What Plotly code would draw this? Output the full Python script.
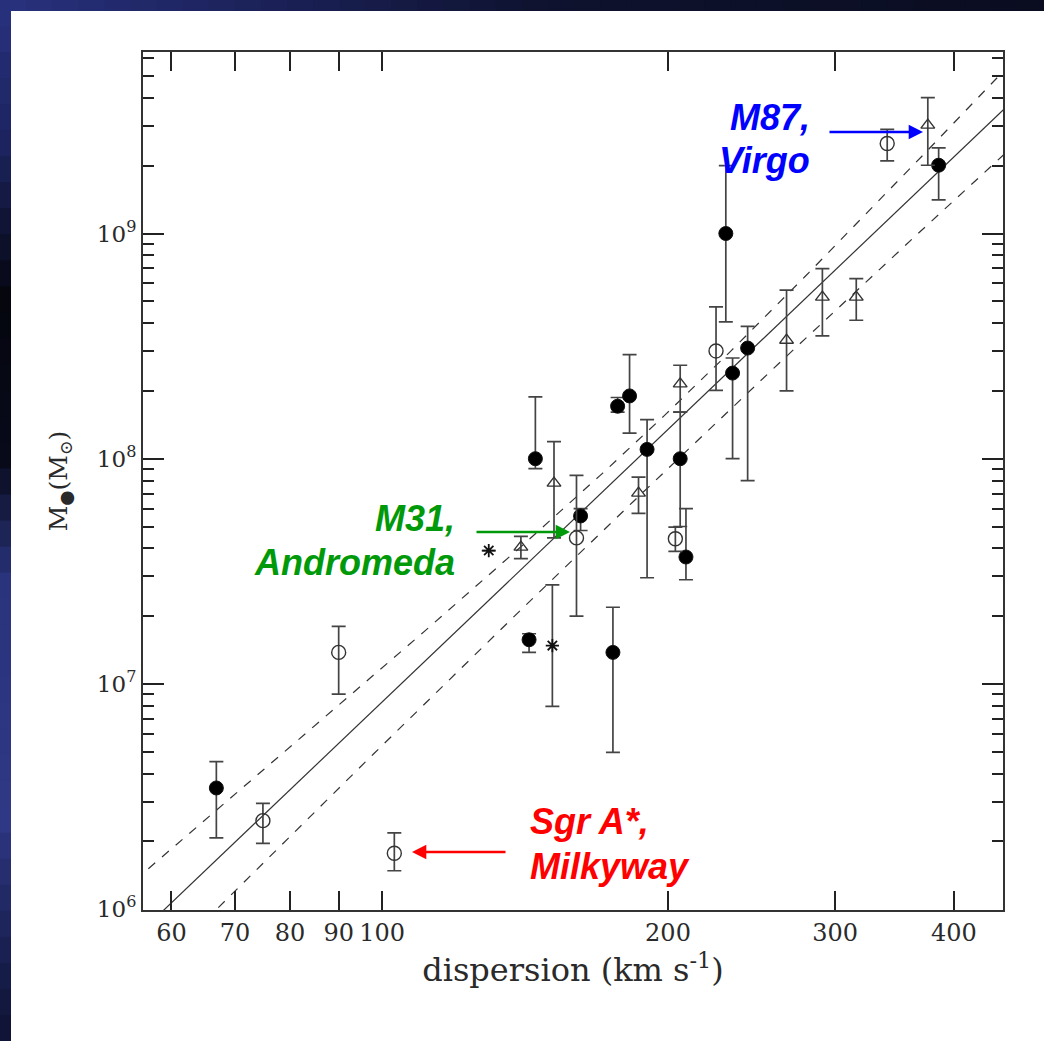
import numpy as np
import plotly.graph_objects as go

# ---------------- data ----------------
# filled circles: dispersion (km/s), mass, upper, lower
filled_sigma = [66.9, 142.8, 175.0, 145.0, 161.8, 177.0, 182.2, 190.1, 206.0, 208.9, 230.1, 233.9, 242.6, 385.5]
filled_mass  = [3.45e6, 1.57e7, 1.38e7, 1.0e8, 5.57e7, 1.71e8, 1.90e8, 1.10e8, 1.0e8, 3.66e7, 1.0e9, 2.40e8, 3.10e8, 2.01e9]
filled_hi    = [4.52e6, 1.67e7, 2.19e7, 1.88e8, 6.0e7, 1.87e8, 2.90e8, 1.49e8, 1.61e8, 6.0e7, 2.0e9, 2.80e8, 3.87e8, 2.40e9]
filled_lo    = [2.07e6, 1.38e7, 4.97e6, 9.04e7, 4.8e7, 1.61e8, 1.30e8, 2.96e7, 5.0e7, 2.90e7, 4.05e8, 1.0e8, 8.0e7, 1.41e9]

# open circles
open_sigma = [74.9, 90.0, 103.0, 160.2, 203.6, 224.7, 340.3]
open_mass  = [2.47e6, 1.38e7, 1.77e6, 4.45e7, 4.41e7, 3.01e8, 2.51e9]
open_hi    = [2.95e6, 1.80e7, 2.18e6, 8.43e7, 4.97e7, 4.72e8, 2.90e9]
open_lo    = [1.96e6, 9.0e6, 1.48e6, 2.0e7, 3.88e7, 2.01e8, 2.10e9]

# open triangles
tri_sigma = [140.0, 151.7, 186.2, 206.0, 266.6, 290.8, 315.7, 375.5]
tri_mass  = [4.05e7, 7.79e7, 7.03e7, 2.15e8, 3.36e8, 5.22e8, 5.22e8, 3.03e9]
tri_hi    = [4.52e7, 1.19e8, 8.28e7, 2.60e8, 5.6e8, 6.98e8, 6.31e8, 4.01e9]
tri_lo    = [3.60e7, 4.45e7, 5.72e7, 1.61e8, 2.0e8, 3.51e8, 4.12e8, 2.01e9]

# asterisks
star_sigma = [129.5, 151.1]
star_mass  = [3.91e7, 1.48e7]
star_hi    = [3.91e7, 2.75e7]
star_lo    = [3.91e7, 7.95e6]

# fit: log M = FIT_A + FIT_B * log(sigma / 200), with band parameters
FIT_A, FIT_B = 8.13, 4.02
UP_A, UP_B = 0.077, 0.43
LO_A, LO_B = 0.173, 0.286

x_tickvals = [60, 70, 80, 90, 100, 200, 300, 400]
x_ticktext = ["60", "70", "80", "90", "100", "200", "300", "400"]
y_tickvals = [1e6, 1e7, 1e8, 1e9]
y_ticktext = ["10<sup>6</sup>", "10<sup>7</sup>", "10<sup>8</sup>", "10<sup>9</sup>"]

# ---------------- figure ----------------
W, H = 1044, 1041
L, R, T, B = 143, 41, 52, 131
PW, PH = W - L - R, H - T - B


def px_x(px):
    return (px - L) / PW


def px_y(py):
    return (H - B - py) / PH


fig = go.Figure()

# fit lines
sig = np.logspace(np.log10(45), np.log10(520), 300)
xx = np.log10(sig / 200.0)
fit = FIT_A + FIT_B * xx
up = fit + np.sqrt(UP_A ** 2 + (UP_B * xx) ** 2)
lo = fit - np.sqrt(LO_A ** 2 + (LO_B * xx) ** 2)
fig.add_trace(go.Scatter(x=sig, y=10 ** fit, mode="lines",
                         line=dict(color="#333333", width=1.2), showlegend=False, hoverinfo="skip"))
for band in (up, lo):
    fig.add_trace(go.Scatter(x=sig, y=10 ** band, mode="lines",
                             line=dict(color="#333333", width=1.2, dash="9px,9px"),
                             showlegend=False, hoverinfo="skip"))


def add_points(s, m, hi, lo_, symbol, size, color, lw):
    fig.add_trace(go.Scatter(
        x=s, y=m, mode="markers",
        marker=dict(symbol=symbol, size=size, color=color, line=dict(color="#111111", width=lw)),
        error_y=dict(type="data", symmetric=False,
                     array=[h - v for h, v in zip(hi, m)],
                     arrayminus=[v - l for v, l in zip(m, lo_)],
                     color="#444444", thickness=1.7, width=7),
        showlegend=False))


add_points(filled_sigma, filled_mass, filled_hi, filled_lo, "circle", 14, "#000000", 1)
add_points(open_sigma, open_mass, open_hi, open_lo, "circle-open", 14, "#333333", 1.4)
add_points(tri_sigma, tri_mass, tri_hi, tri_lo, "triangle-up-open", 12, "#333333", 1.4)
add_points(star_sigma, star_mass, star_hi, star_lo, "asterisk-open", 11, "#111111", 1.8)

SERIF = "DejaVu Serif"
TXT = "#2a2a2a"

fig.update_xaxes(
    type="log", range=[np.log10(56.0), np.log10(450.6)],
    tickmode="array", tickvals=x_tickvals, ticktext=x_ticktext,
    ticks="inside", ticklen=19, tickwidth=1.6, tickcolor="#222222",
    showline=True, linecolor="#333333", linewidth=2, mirror="ticks",
    showgrid=False, zeroline=False, tickfont=dict(family=SERIF, size=24, color=TXT),
    title=dict(text="dispersion (km s<sup>-1</sup>)", font=dict(family=SERIF, size=32, color=TXT),
               standoff=8),
)

minor_vals = [k * 10 ** d for d in range(5, 10) for k in range(2, 10)]
fig.update_yaxes(
    type="log", range=[5.996, 9.806],
    tickmode="array", tickvals=y_tickvals, ticktext=y_ticktext,
    ticks="inside", ticklen=21, tickwidth=1.6, tickcolor="#222222",
    minor=dict(tickmode="array", tickvals=minor_vals, ticks="inside", ticklen=11,
               tickwidth=1.6, tickcolor="#222222", showgrid=False),
    showline=True, linecolor="#333333", linewidth=2, mirror="ticks",
    showgrid=False, zeroline=False, tickfont=dict(family=SERIF, size=23, color=TXT),
    title=dict(text="M<sub>●</sub>(M<sub>⊙</sub>)", font=dict(family=SERIF, size=25, color=TXT),
               standoff=22),
)

# ---------------- labels and arrows ----------------
ann = []


def label(text, px, py, color, anchor):
    ann.append(dict(text="<b><i>%s</i></b>" % text, x=px_x(px), y=px_y(py), xref="paper", yref="paper",
                    xanchor=anchor, yanchor="middle", showarrow=False,
                    font=dict(family="Liberation Sans", size=36, color=color)))


def arrow(tip_px, tip_py, tail_px, tail_py, color):
    ann.append(dict(text="", x=px_x(tip_px), y=px_y(tip_py), xref="paper", yref="paper",
                    ax=tail_px - tip_px, ay=tail_py - tip_py, axref="pixel", ayref="pixel",
                    showarrow=True, arrowhead=2, arrowsize=1.1, arrowwidth=2.6, arrowcolor=color))


BLUE, GREEN, RED = "#0000ff", "#00990a", "#ff0000"
label("M87,", 812, 118, BLUE, "right")
label("Virgo", 812, 161, BLUE, "right")
arrow(923, 132, 828, 132, BLUE)
label("M31,", 457, 518, GREEN, "right")
label("Andromeda", 457, 562, GREEN, "right")
arrow(570, 532, 475, 532, GREEN)
label("Sgr A*,", 528, 821, RED, "left")
label("Milkyway", 528, 866, RED, "left")
arrow(412, 852, 507, 852, RED)

# ---------------- dark slide frame (left and top strips) ----------------
shapes = []


def lerp_color(stops, v):
    for (p0, c0), (p1, c1) in zip(stops[:-1], stops[1:]):
        if p0 <= v <= p1:
            t = (v - p0) / (p1 - p0) if p1 > p0 else 0
            return "rgb(%d,%d,%d)" % tuple(int(round(a + (b - a) * t)) for a, b in zip(c0, c1))
    return "rgb(%d,%d,%d)" % stops[-1][1]


left_stops = [(0, (40, 50, 126)), (140, (28, 36, 96)), (300, (5, 6, 14)), (460, (8, 10, 26)),
              (580, (42, 52, 124)), (820, (46, 56, 132)), (960, (24, 30, 78)), (1041, (14, 18, 50))]
top_stops = [(0, (40, 50, 126)), (250, (28, 34, 90)), (550, (14, 18, 46)), (1044, (10, 13, 32))]
STRIP_L, STRIP_T = 11, 11
n = 40
for i in range(n):
    y0, y1 = H * i / n, H * (i + 1) / n
    shapes.append(dict(type="rect", xref="paper", yref="paper", x0=px_x(-2), x1=px_x(STRIP_L),
                       y0=px_y(min(y1 + 3, H + 2)), y1=px_y(y0 - (2 if i == 0 else 0)), line=dict(width=0),
                       fillcolor=lerp_color(left_stops, (y0 + y1) / 2), layer="above"))
for i in range(n):
    x0, x1 = W * i / n, W * (i + 1) / n
    shapes.append(dict(type="rect", xref="paper", yref="paper", x0=px_x(max(x0, STRIP_L - 1)),
                       x1=px_x(min(x1 + 3, W + 2)),
                       y0=px_y(STRIP_T), y1=px_y(-2), line=dict(width=0),
                       fillcolor=lerp_color(top_stops, (x0 + x1) / 2), layer="above"))

fig.update_layout(
    width=W, height=H, margin=dict(l=L, r=R, t=T, b=B, pad=0),
    paper_bgcolor="white", plot_bgcolor="white",
    annotations=ann, shapes=shapes, showlegend=False,
)

fig.write_html("out.html", config={"displayModeBar": False},
               post_script="document.body.style.margin='0px';")
